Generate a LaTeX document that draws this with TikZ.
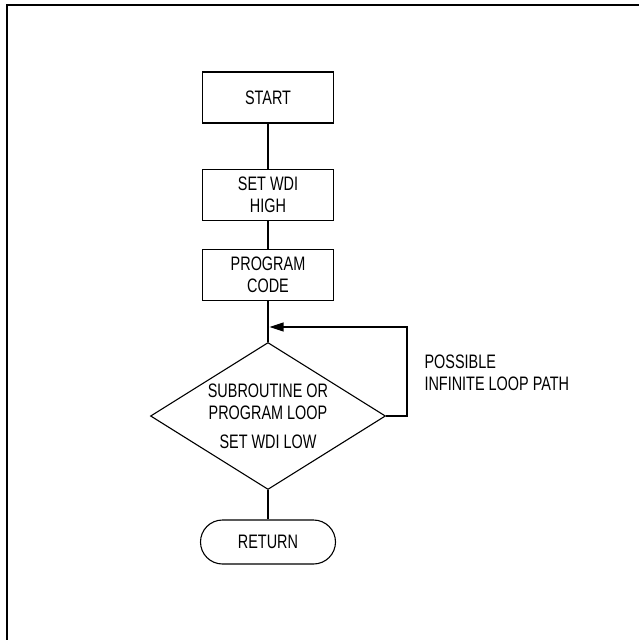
\documentclass[tikz,border=0pt]{standalone}
\usepackage{fontspec}
\setmainfont{Liberation Sans}[FakeStretch=0.74]
\usetikzlibrary{shapes.geometric,shapes.misc,arrows.meta}
\begin{document}
\begin{tikzpicture}[x=1pt,y=-1pt,
  every node/.style={font=\fontsize{19.5}{22}\selectfont},
  procbox/.style={draw,line width=1.1pt,minimum width=131pt,minimum height=51pt,inner sep=0pt,align=center},
  decbox/.style={draw,line width=1.1pt,diamond,aspect=1.6,minimum width=235pt,minimum height=147pt,inner sep=0pt,align=center},
  termbox/.style={draw,line width=1.1pt,rounded rectangle,minimum width=135pt,minimum height=44pt,inner sep=0pt},
  conn/.style={line width=1.1pt},
  frame/.style={line width=2.2pt}]
\useasboundingbox (0,0) rectangle (638,640);
\coordinate (fa) at (7,641);
\coordinate (fb) at (7,5);
\coordinate (fc) at (639,5);
\draw[frame] (fa) -- (fb) -- (fc);
\node[procbox] (start) at (268,97.5) {START};
\node[procbox] (wdihigh) at (268,195) {SET WDI\\HIGH};
\node[procbox] (prog) at (268,275) {PROGRAM\\CODE};
\node[decbox] (dec) at (268,416) {SUBROUTINE OR\\PROGRAM LOOP\\[7pt]SET WDI LOW};
\node[termbox] (ret) at (268,542) {RETURN};
\node[anchor=west,align=left] (lbl) at (421,373) {POSSIBLE\\INFINITE LOOP PATH};
\coordinate (loopc) at (407,327);
\coordinate (join) at (269.5,327);
\draw[conn] (start) -- (wdihigh);
\draw[conn] (wdihigh) -- (prog);
\draw[conn] (prog) -- (dec);
\draw[conn] (dec) -- (ret);
\draw[conn,-{Triangle[length=14pt,width=9pt]}] (dec.east) -| (loopc) -- (join);
\end{tikzpicture}
\end{document}
